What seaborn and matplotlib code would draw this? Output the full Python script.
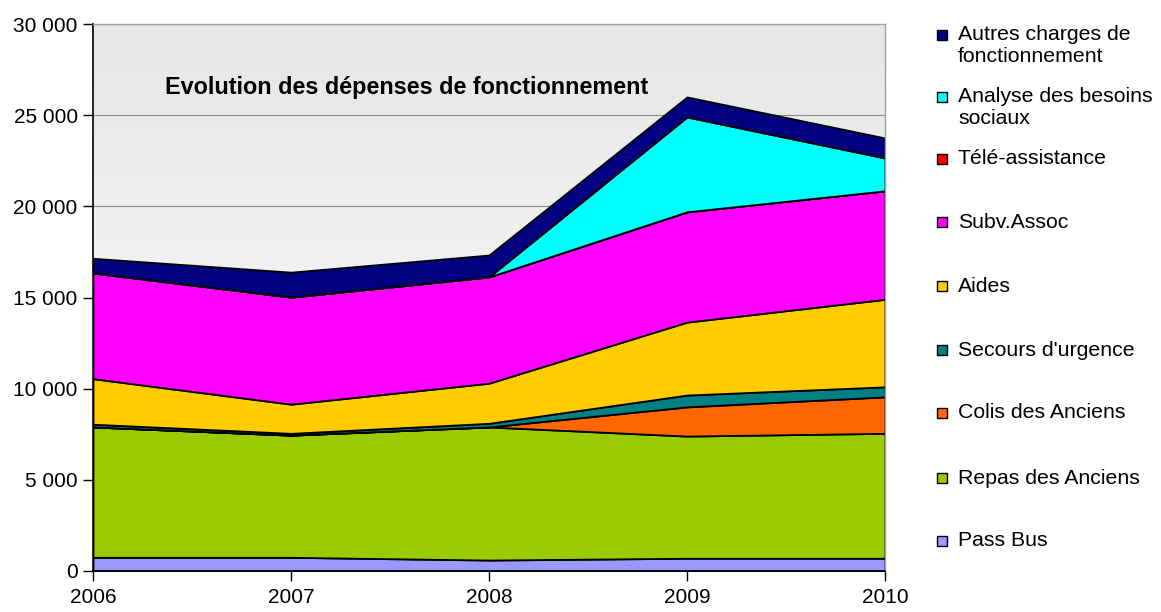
import numpy as np
import matplotlib
matplotlib.use("Agg")
import matplotlib.pyplot as plt
from matplotlib.patches import Rectangle
from matplotlib.ticker import FuncFormatter
import seaborn as sns

# ---------------------------
# Data
# ---------------------------
years = [2006, 2007, 2008, 2009, 2010]

pass_bus = [750, 750, 600, 700, 700]
repas = [7150, 6700, 7300, 6700, 6850]
colis = [0, 0, 0, 1600, 2000]
secours = [150, 100, 200, 650, 550]
aides = [2500, 1600, 2200, 4000, 4800]
subv = [5800, 5870, 5830, 6050, 5950]
tele = [0, 0, 0, 0, 0]
analyse = [0, 0, 0, 5200, 1800]
autres = [800, 1370, 1200, 1100, 1100]

series_labels = [
    "Pass Bus", "Repas des Anciens", "Colis des Anciens", "Secours d'urgence",
    "Aides", "Subv.Assoc", "Télé-assistance", "Analyse des besoins\nsociaux",
    "Autres charges de\nfonctionnement",
]
series_values = [pass_bus, repas, colis, secours, aides, subv, tele, analyse, autres]
series_colors = [
    "#9999ff", "#99cc00", "#ff6600", "#008080", "#ffcc00",
    "#ff00ff", "#ff0000", "#00ffff", "#000080",
]

y_ticks = [0, 5000, 10000, 15000, 20000, 25000, 30000]

# ---------------------------
# Style
# ---------------------------
sns.set_theme(style="white")
plt.rcParams["font.family"] = ["Liberation Sans", "DejaVu Sans"]
plt.rcParams["text.color"] = "black"
plt.rcParams["xtick.color"] = "black"
plt.rcParams["ytick.color"] = "black"

fig = plt.figure(figsize=(11.61, 6.12), dpi=100)
ax = fig.add_axes([93 / 1161, 1 - 571 / 612, (885 - 93) / 1161, (571 - 24) / 612])

# gradient plot background (white at bottom, light grey on top)
grad = np.linspace(1.0, 0.0, 256).reshape(-1, 1)
ax.imshow(grad, extent=[years[0], years[-1], 0, 30000], aspect="auto",
          cmap=matplotlib.colors.LinearSegmentedColormap.from_list(
              "bg", ["#ffffff", "#e6e6e6"]),
          vmin=0, vmax=1, zorder=0, origin="upper")

for yv in y_ticks[1:-1]:
    ax.axhline(yv, color="#8c8c8c", linewidth=0.8, zorder=1)

ax.stackplot(years, *series_values, colors=series_colors,
             edgecolor="black", linewidth=1.3, zorder=2)

ax.set_xlim(years[0], years[-1])
ax.set_ylim(0, 30000)
ax.set_xticks(years)
ax.set_yticks(y_ticks)
ax.yaxis.set_major_formatter(FuncFormatter(lambda v, _: f"{int(v):,}".replace(",", " ")))
ax.tick_params(axis="both", which="both", direction="out", length=7, width=1,
               color="black", labelsize=15, left=True, bottom=True)
ax.tick_params(axis="y", pad=4)
ax.tick_params(axis="x", pad=5)
ax.grid(False)

for loc, spine in ax.spines.items():
    if loc in ["left", "bottom"]:
        spine.set_color("black")
        spine.set_linewidth(1.2)
    else:
        spine.set_color("#a0a0a0")
        spine.set_linewidth(1)
    spine.set_zorder(3)

ax.text(0.091, 0.883, "Evolution des dépenses de fonctionnement",
        transform=ax.transAxes, fontsize=16.8, fontweight="bold",
        ha="left", va="center", zorder=4)

# ---------------------------
# Legend (drawn top to bottom, reverse of stacking order)
# ---------------------------
W, H = 1161, 612
row_y = [35, 97, 159, 222, 286, 350, 413, 478, 541]
for i, idx in enumerate(range(len(series_labels) - 1, -1, -1)):
    yc = row_y[i]
    fig.patches.append(Rectangle((937 / W, 1 - (yc + 5) / H), 10 / W, 10 / H,
                                 transform=fig.transFigure, facecolor=series_colors[idx],
                                 edgecolor="black", linewidth=1))
    for k, line in enumerate(series_labels[idx].split("\n")):
        fig.text(958 / W, 1 - (yc + 22 * k) / H, line, fontsize=15.3,
                 ha="left", va="center")

fig.savefig("out.png", dpi=100)
